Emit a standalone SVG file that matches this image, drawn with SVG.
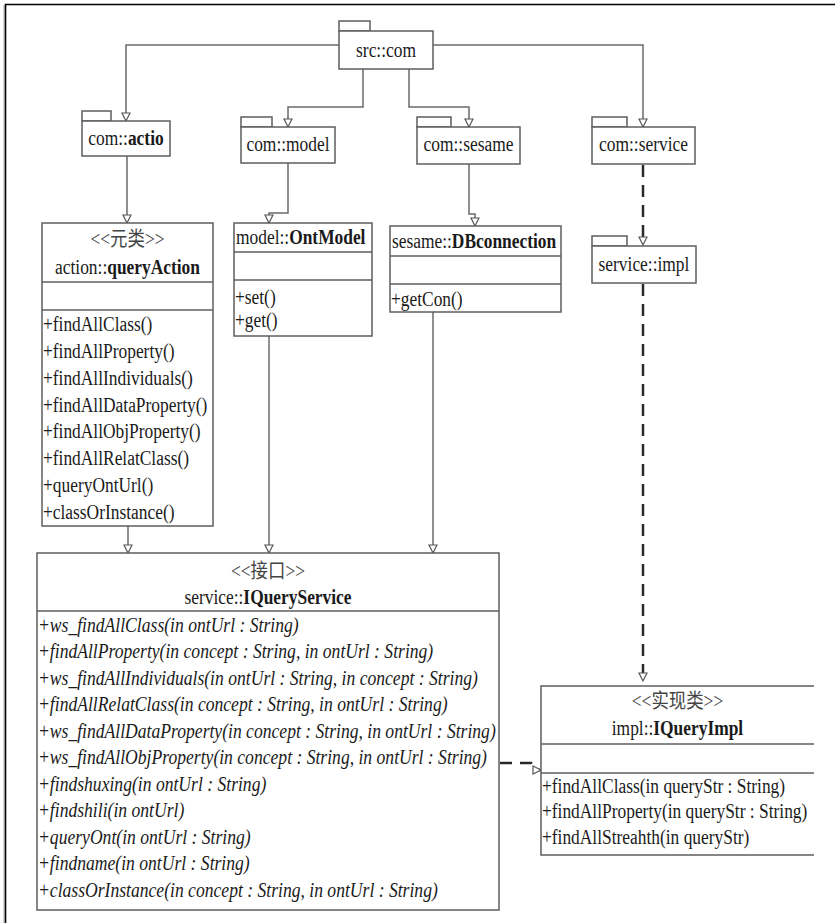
<svg xmlns="http://www.w3.org/2000/svg" width="835" height="923" viewBox="0 0 835 923">
<style>
text { font-family: "Liberation Serif", "Noto Sans CJK SC", serif; font-size: 20px; fill: #1a1a1a; transform-box: fill-box; transform-origin: 0 50%; transform: scaleX(0.87); }
.c { text-anchor: middle; transform-origin: 50% 50%; }
.b { font-weight: bold; }
.i { font-style: italic; transform: scaleX(0.88); }
.st { fill: #444; }
.box { fill: #fff; stroke: #5e5e5e; stroke-width: 1.5; }
.ln { fill: none; stroke: #5e5e5e; stroke-width: 1.5; }
.conn { fill: none; stroke: #6a6a6a; stroke-width: 1.5; }
.dash { fill: none; stroke: #2a2a2a; stroke-width: 2.5; stroke-dasharray: 12 8; }
.frame { fill: none; stroke: #000; stroke-width: 1.6; }
</style>
<defs>
<marker id="tri" viewBox="-1 -1 11 11" markerWidth="11" markerHeight="11" refX="8" refY="4" orient="auto" markerUnits="userSpaceOnUse">
<path d="M0,0 L8,4 L0,8 Z" fill="#fff" stroke="#555" stroke-width="1.2"/>
</marker>
</defs>
<rect width="835" height="923" fill="#fff"/>
<g id="frame">
<line x1="4" y1="5" x2="4" y2="923" stroke="#c8c8c8" stroke-width="1.5"/>
<path class="frame" d="M5.5,923 V4.5 H835"/>
</g>
<g id="connectors">
<path class="conn" d="M339,45 H126 V121" marker-end="url(#tri)"/>
<path class="conn" d="M363,69 V107 H288 V127" marker-end="url(#tri)"/>
<path class="conn" d="M409,69 V107 H469 V127" marker-end="url(#tri)"/>
<path class="conn" d="M433,45 H643 V127" marker-end="url(#tri)"/>
<path class="conn" d="M127,156 V223" marker-end="url(#tri)"/>
<path class="conn" d="M288,163 V213 H269 V223" marker-end="url(#tri)"/>
<path class="conn" d="M469,164 V214 H475 V226" marker-end="url(#tri)"/>
<path class="conn" d="M128,526 V553" marker-end="url(#tri)"/>
<path class="conn" d="M269,336 V553" marker-end="url(#tri)"/>
<path class="conn" d="M433,312 V553" marker-end="url(#tri)"/>
<path class="dash" d="M643,165 V245" marker-end="url(#tri)"/>
<path class="dash" d="M643,284 V681" marker-end="url(#tri)"/>
<path class="dash" d="M500,763 H531 V770 H541" marker-end="url(#tri)"/>
</g>
<g id="pkg-src-com">
<rect class="box" x="339" y="21" width="31" height="10"/>
<rect class="box" x="339" y="31" width="94" height="38"/>
<text class="c" x="386" y="57">src::com</text>
</g>
<g id="pkg-com-actio">
<rect class="box" x="82" y="111" width="29" height="10"/>
<rect class="box" x="82" y="121" width="88" height="35"/>
<text class="c" x="126" y="145">com::<tspan class="b">actio</tspan></text>
</g>
<g id="pkg-com-model">
<rect class="box" x="241" y="117" width="31" height="10"/>
<rect class="box" x="241" y="127" width="94" height="36"/>
<text class="c" x="288" y="151">com::model</text>
</g>
<g id="pkg-com-sesame">
<rect class="box" x="417" y="117" width="34" height="10"/>
<rect class="box" x="417" y="127" width="103" height="37"/>
<text class="c" x="468.5" y="151">com::sesame</text>
</g>
<g id="pkg-com-service">
<rect class="box" x="592" y="117" width="35" height="10"/>
<rect class="box" x="592" y="127" width="103" height="37"/>
<text class="c" x="643.5" y="151">com::service</text>
</g>
<g id="pkg-service-impl">
<rect class="box" x="592" y="236" width="35" height="10"/>
<rect class="box" x="592" y="246" width="104" height="37"/>
<text class="c" x="644" y="271">service::impl</text>
</g>
<g id="cls-queryAction">
<rect class="box" x="42" y="223" width="171" height="303"/>
<line class="ln" x1="42" y1="282" x2="213" y2="282"/>
<line class="ln" x1="42" y1="310" x2="213" y2="310"/>
<text class="c st" x="127.5" y="246">&lt;&lt;元类&gt;&gt;</text>
<text class="c" x="127.5" y="274">action::<tspan class="b">queryAction</tspan></text>
<text x="43" y="331">+findAllClass()</text>
<text x="43" y="358">+findAllProperty()</text>
<text x="43" y="385">+findAllIndividuals()</text>
<text x="43" y="412">+findAllDataProperty()</text>
<text x="43" y="438">+findAllObjProperty()</text>
<text x="43" y="465">+findAllRelatClass()</text>
<text x="43" y="492">+queryOntUrl()</text>
<text x="43" y="519">+classOrInstance()</text>
</g>
<g id="cls-OntModel">
<rect class="box" x="234" y="223" width="138" height="113"/>
<line class="ln" x1="234" y1="252" x2="372" y2="252"/>
<line class="ln" x1="234" y1="280" x2="372" y2="280"/>
<text x="236" y="244">model::<tspan class="b">OntModel</tspan></text>
<text x="235" y="304">+set()</text>
<text x="235" y="327">+get()</text>
</g>
<g id="cls-DBconnection">
<rect class="box" x="390" y="226" width="171" height="86"/>
<line class="ln" x1="390" y1="256" x2="561" y2="256"/>
<line class="ln" x1="390" y1="284" x2="561" y2="284"/>
<text x="392" y="248">sesame::<tspan class="b">DBconnection</tspan></text>
<text x="391" y="306">+getCon()</text>
</g>
<g id="cls-IQueryService">
<rect class="box" x="37" y="553" width="462" height="357"/>
<line class="ln" x1="37" y1="611" x2="499" y2="611"/>
<text class="c st" x="268" y="578">&lt;&lt;接口&gt;&gt;</text>
<text class="c" x="268" y="604">service::<tspan class="b">IQueryService</tspan></text>
<text class="i" x="38" y="632">+ws_findAllClass(in ontUrl : String)</text>
<text class="i" x="38" y="658.5">+findAllProperty(in concept : String, in ontUrl : String)</text>
<text class="i" x="38" y="685">+ws_findAllIndividuals(in ontUrl : String, in concept : String)</text>
<text class="i" x="38" y="711.5">+findAllRelatClass(in concept : String, in ontUrl : String)</text>
<text class="i" x="38" y="738">+ws_findAllDataProperty(in concept : String, in ontUrl : String)</text>
<text class="i" x="38" y="764.5">+ws_findAllObjProperty(in concept : String, in ontUrl : String)</text>
<text class="i" x="38" y="791">+findshuxing(in ontUrl : String)</text>
<text class="i" x="38" y="817.5">+findshili(in ontUrl)</text>
<text class="i" x="38" y="844">+queryOnt(in ontUrl : String)</text>
<text class="i" x="38" y="870.5">+findname(in ontUrl : String)</text>
<text class="i" x="38" y="897">+classOrInstance(in concept : String, in ontUrl : String)</text>
</g>
<g id="cls-IQueryImpl">
<path d="M814,686 H541 V855 H814" fill="#fff" stroke="#5e5e5e" stroke-width="1.5"/>
<line class="ln" x1="541" y1="744" x2="814" y2="744"/>
<line class="ln" x1="541" y1="773" x2="814" y2="773"/>
<text class="c st" x="677.5" y="708">&lt;&lt;实现类&gt;&gt;</text>
<text class="c" x="677.5" y="735">impl::<tspan class="b">IQueryImpl</tspan></text>
<text x="542" y="793">+findAllClass(in queryStr : String)</text>
<text x="542" y="818">+findAllProperty(in queryStr : String)</text>
<text x="542" y="844">+findAllStreahth(in queryStr)</text>
</g>
</svg>
